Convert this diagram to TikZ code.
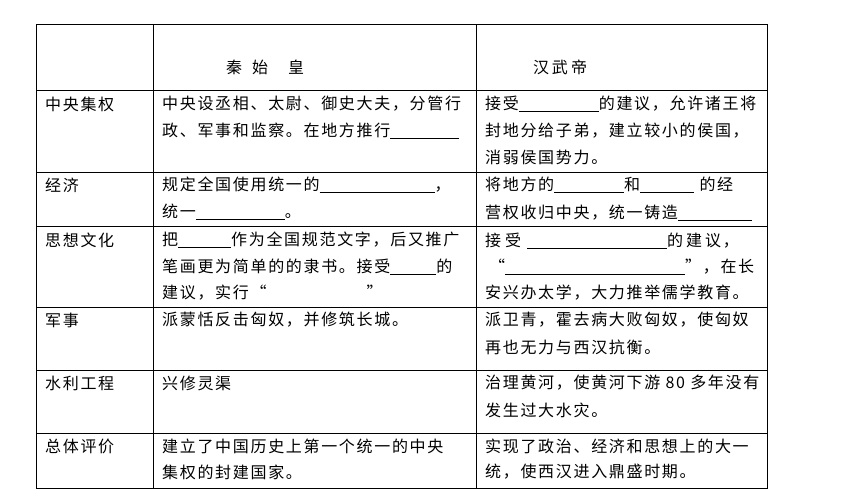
\documentclass[tikz,border=0pt]{standalone}
\usepackage{fontspec}
\newfontfamily\cjk[LetterSpace=10.5]{Noto Sans CJK SC}
\newcommand{\blank}[1]{\rule[-2pt]{#1pt}{0.7pt}}
\tikzset{
  cell/.style={anchor=west, inner sep=0pt, font=\cjk\fontsize{16}{18}\selectfont},
  grid/.style={line width=0.9pt}
}
\begin{document}
\begin{tikzpicture}[x=1pt,y=-1pt]
        \useasboundingbox (0,0) rectangle (843,500);
        % Draw the table lines
        \draw[grid] (36,24) rectangle (767,488);
        \draw[grid] (153,24) -- (153,488);
        \draw[grid] (476,24) -- (476,488);
        \foreach \y in {90,172,226,307,370,433}
          \draw[grid] (36,\y) -- (767,\y);

        % Header
        \node[cell, anchor=center] (qin) at (265,67) {秦\hspace{10pt}始\hspace{20pt}皇};
        \node[cell, anchor=center] (han) at (560,67) {汉\hspace{3pt}武\hspace{3pt}帝};

        % Row labels
        \node[cell] (r1) at (45,104) {中央集权};
        \node[cell] (r2) at (45,185) {经济};
        \node[cell] (r3) at (45,240) {思想文化};
        \node[cell] (r4) at (45,320) {军事};
        \node[cell] (r5) at (45,383) {水利工程};
        \node[cell] (r6) at (45,446) {总体评价};

        % Qin Shihuang
        \node[cell] (q1a) at (162,104) {中央设丞相、太尉、御史大夫，分管行};
        \node[cell] (q1b) at (162,131) {政、军事和监察。在地方推行\blank{69}};
        \node[cell] (q2a) at (162,185) {规定全国使用统一的\blank{115}，};
        \node[cell] (q2b) at (162,212) {统一\blank{89}。};
        \node[cell] (q3a) at (162,240) {把\blank{53}作为全国规范文字，后又推广};
        \node[cell] (q3b) at (162,267) {笔画更为简单的的隶书。接受\blank{46}的};
        \node[cell] (q3c) at (162,293) {建议，实行“\hspace{100pt}”};
        \node[cell] (q4) at (162,320) {派蒙恬反击匈奴，并修筑长城。};
        \node[cell] (q5) at (162,383) {兴修灵渠};
        \node[cell] (q6a) at (162,446) {建立了中国历史上第一个统一的中央};
        \node[cell] (q6b) at (162,472) {集权的封建国家。};

        % Han Wudi
        \node[cell] (h1a) at (485,104) {接受\blank{80}的建议，允许诸王将};
        \node[cell] (h1b) at (485,131) {封地分给子弟，建立较小的侯国，};
        \node[cell] (h1c) at (485,157) {消弱侯国势力。};
        \node[cell] (h2a) at (485,185) {将地方的\blank{70}和\blank{54} 的经};
        \node[cell] (h2b) at (485,213) {营权收归中央，统一铸造\blank{74}};
        \node[cell] (h3a) at (485,241) {接\hspace{4pt}受\hspace{6pt}\blank{140}的\hspace{3pt}建\hspace{3pt}议，};
        \node[cell] (h3b) at (485,267) {\hspace{4pt}“\blank{180}”，在长};
        \node[cell] (h3c) at (485,293) {安兴办太学，大力推举儒学教育。};
        \node[cell] (h4a) at (485,320) {派卫青，霍去病大败匈奴，使匈奴};
        \node[cell] (h4b) at (485,347) {再也无力与西汉抗衡。};
        \node[cell] (h5a) at (485,383) {治理黄河，使黄河下游 80 多年没有};
        \node[cell] (h5b) at (485,410) {发生过大水灾。};
        \node[cell] (h6a) at (485,446) {实现了政治、经济和思想上的大一};
        \node[cell] (h6b) at (485,472) {统，使西汉进入鼎盛时期。};
\end{tikzpicture}
\end{document}
